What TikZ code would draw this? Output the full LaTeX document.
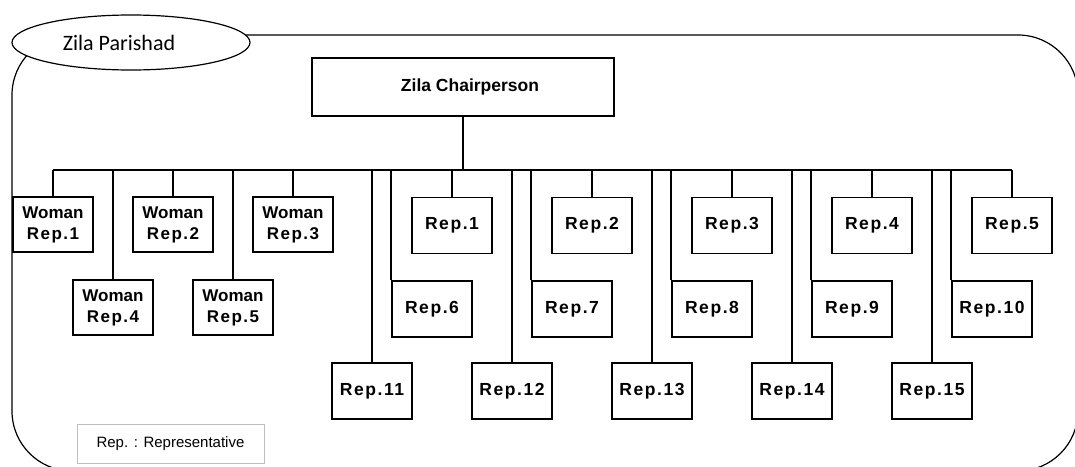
\documentclass[tikz,border=0pt]{standalone}
\usepackage{fontspec}
\setmainfont{Liberation Sans}
\newfontfamily\calib{Carlito}
\newfontfamily\repfont[LetterSpace=9]{Liberation Sans}
\newcommand{\rp}[1]{{\repfont\bfseries #1}}
\usetikzlibrary{shapes.geometric}
\begin{document}
\begin{tikzpicture}[x=1pt,y=-1pt,
  orgbox/.style={draw,line width=1.8pt,rectangle,minimum width=80pt,minimum height=56pt,
    inner sep=0pt,font=\fontsize{17.5}{21}\selectfont\bfseries,align=center},
  wbox/.style={orgbox,minimum height=55pt,font=\fontsize{17}{21}\selectfont\bfseries},
  link/.style={line width=1.6pt}]
\useasboundingbox (0,0) rectangle (1075,466);
\clip (0,0) rectangle (1075,466);
\fill[white] (0,0) rectangle (1075,466);

% council frame with its title ellipse
\draw[line width=1.2pt,rounded corners=60pt] (12,35) rectangle (1078,471);
\node[ellipse,draw,line width=1.2pt,fill=white,minimum width=238pt,minimum height=55pt,inner sep=0pt,
  font=\calib\fontsize{22}{24}\selectfont] (zp) at (131,42.5) {Zila Parishad\hspace*{24pt}};

% chairperson and the common bus
\node[draw,line width=1.8pt,minimum width=302pt,minimum height=58pt,inner sep=0pt,
  font=\fontsize{17.5}{21}\selectfont\bfseries] (chair) at (463,87) {\hspace*{14pt}Zila Chairperson};
\coordinate (busL) at (53,170);
\coordinate (busR) at (1012,170);
\draw[link] (chair.south) -- (chair.south |- busL);
\draw[link] (busL) -- (busR);

% women representatives
\node[wbox] (wr1) at (53,224.5) {Woman\\\rp{Rep.1}};
\node[wbox] (wr2) at (173,224.5) {Woman\\\rp{Rep.2}};
\node[wbox] (wr3) at (293,224.5) {Woman\\\rp{Rep.3}};
\node[wbox] (wr4) at (113,307.5) {Woman\\\rp{Rep.4}};
\node[wbox] (wr5) at (233,307.5) {Woman\\\rp{Rep.5}};
\foreach \n in {wr1,wr2,wr3,wr4,wr5}
  \draw[link] (\n.north) -- (\n.north |- busL);

% representatives, three rows
\foreach \i in {1,...,5}{
  \pgfmathsetmacro{\xa}{452+140*(\i-1)}
  \pgfmathsetmacro{\xb}{432+140*(\i-1)}
  \pgfmathsetmacro{\xc}{372+140*(\i-1)}
  \pgfmathtruncatemacro{\ib}{\i+5}
  \pgfmathtruncatemacro{\ic}{\i+10}
  \node[orgbox] (r\i) at (\xa,225.5) {\rp{Rep.\i}};
  \node[orgbox] (r\ib) at (\xb,309) {\rp{Rep.\ib}};
  \node[orgbox] (r\ic) at (\xc,391) {\rp{Rep.\ic}};
  \draw[link] (r\i.north) -- (r\i.north |- busL);
  \draw[link] (r\ib.north west) -- (r\ib.north west |- busL);
  \draw[link] (r\ic.north) -- (r\ic.north |- busL);
}

% legend
\node[draw=black!25,line width=1pt,minimum width=187pt,minimum height=39pt,inner sep=0pt,
  font=\fontsize{15}{17}\selectfont] (legend) at (170.5,443.5) {Rep. : Representative};
\end{tikzpicture}
\end{document}
